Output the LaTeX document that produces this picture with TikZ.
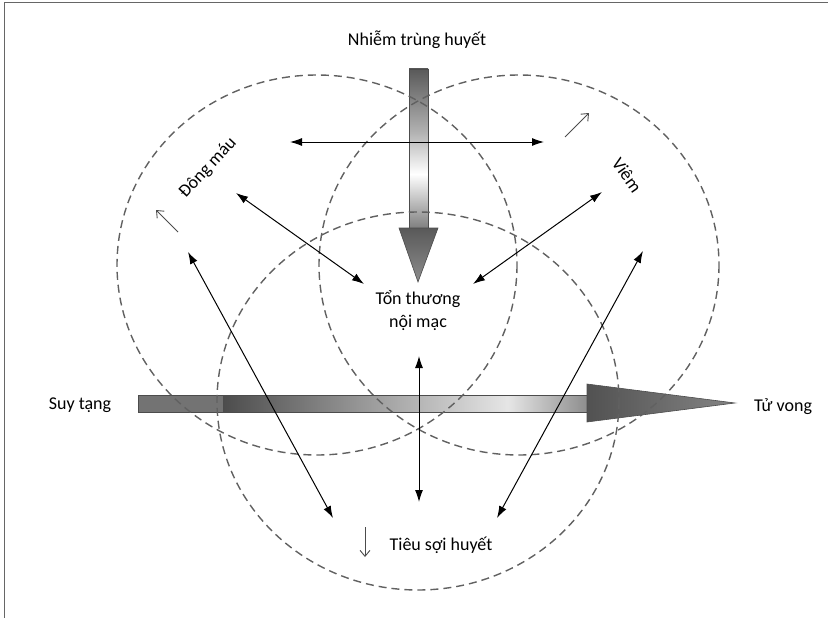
\documentclass[tikz,border=0pt]{standalone}
\usepackage{fontspec}
\setmainfont{Carlito}
\usetikzlibrary{arrows.meta}
\tikzset{>={Latex[length=12pt,width=8pt]}}
\colorlet{zonegray}{black!62}
\colorlet{rimgray}{black!70}
% shadings: central 25bp--75bp band is fitted to the path
\pgfdeclareverticalshading{shaftdown}{100bp}{color(0bp)=(black!50); color(25bp)=(black!50);
  color(42bp)=(white); color(55bp)=(black!30); color(75bp)=(black!65); color(100bp)=(black!65)}
\pgfdeclarehorizontalshading{shaftright}{100bp}{color(0bp)=(black!70); color(25bp)=(black!70);
  color(64bp)=(white!90!black); color(75bp)=(black!45); color(100bp)=(black!45)}
\tikzset{
  zone/.style={zonegray,dash pattern=on 8pt off 5pt,line width=1.4pt},
  link/.style={<->,line width=1pt},
  hint/.style={-{Straight Barb[length=6pt,width=10pt]},rimgray,line width=0.9pt},
  term/.style={font=\fontsize{18}{23}\selectfont,inner sep=1pt},
  bigarrow/.style={draw=rimgray,line width=0.6pt},
}
\begin{document}
\begin{tikzpicture}[x=1pt,y=-1pt]
  \useasboundingbox (0,0) rectangle (828,618);
  \draw[black!60,line width=1pt] (4,618) -- (4,3) -- (828,3);

  % big arrows
  \path[bigarrow,shading=shaftdown] (409,69) rectangle (428,228);
  \path[bigarrow,top color=black!65,bottom color=black!45]
    (399,228) -- (438,228) -- (418,282) -- cycle;
  \path[bigarrow,fill=black!55] (138,395) rectangle (223,412);
  \path[bigarrow,shading=shaftright] (223,395) rectangle (588,412);
  \path[bigarrow,left color=black!68,right color=black!48]
    (587,384) -- (735,403) -- (587,422) -- cycle;

  % three zones
  \draw[zone] (317,265) ellipse [x radius=200,y radius=190];
  \draw[zone] (519,265) ellipse [x radius=200,y radius=190];
  \draw[zone] (418,401) ellipse [x radius=201,y radius=189];

  \node[term] (sepsis) at (417,40) {Nhiễm trùng huyết};
  \node[term,rotate=47] (coag) at (208,168) {Đông máu};
  \node[term,rotate=-55] (inflam) at (627,175) {Viêm};
  \node[term,align=center] (endo) at (418,311) {Tổn thương\\nội mạc};
  \node[term] (organ) at (80,405) {Suy tạng};
  \node[term] (death) at (783,407) {Tử vong};
  \node[term] (fibrin) at (441,545) {Tiêu sợi huyết};

  \coordinate (hl) at (290,142);
  \coordinate (hr) at (544,142);
  \coordinate (cA) at (236,193);
  \coordinate (cB) at (364,284);
  \coordinate (iA) at (602,192);
  \coordinate (iB) at (473,284);
  \coordinate (eA) at (419,356);
  \coordinate (eB) at (419,502);
  \coordinate (lA) at (188,252);
  \coordinate (lB) at (333,518);
  \coordinate (rA) at (643,251);
  \coordinate (rB) at (497,518);
  \draw[link] (hl) -- (hr);
  \draw[link] (cA) -- (cB);
  \draw[link] (iA) -- (iB);
  \draw[link] (eA) -- (eB);
  \draw[link] (lA) -- (lB);
  \draw[link] (rA) -- (rB);

  \coordinate (coagup0) at (178,232);
  \coordinate (coagup1) at (156,210);
  \coordinate (influp0) at (565,137);
  \coordinate (influp1) at (589,113);
  \coordinate (fibdn0) at (365,527);
  \coordinate (fibdn1) at (365,557);
  \draw[hint] (coagup0) -- (coagup1);
  \draw[hint] (influp0) -- (influp1);
  \draw[hint] (fibdn0) -- (fibdn1);
\end{tikzpicture}
\end{document}
